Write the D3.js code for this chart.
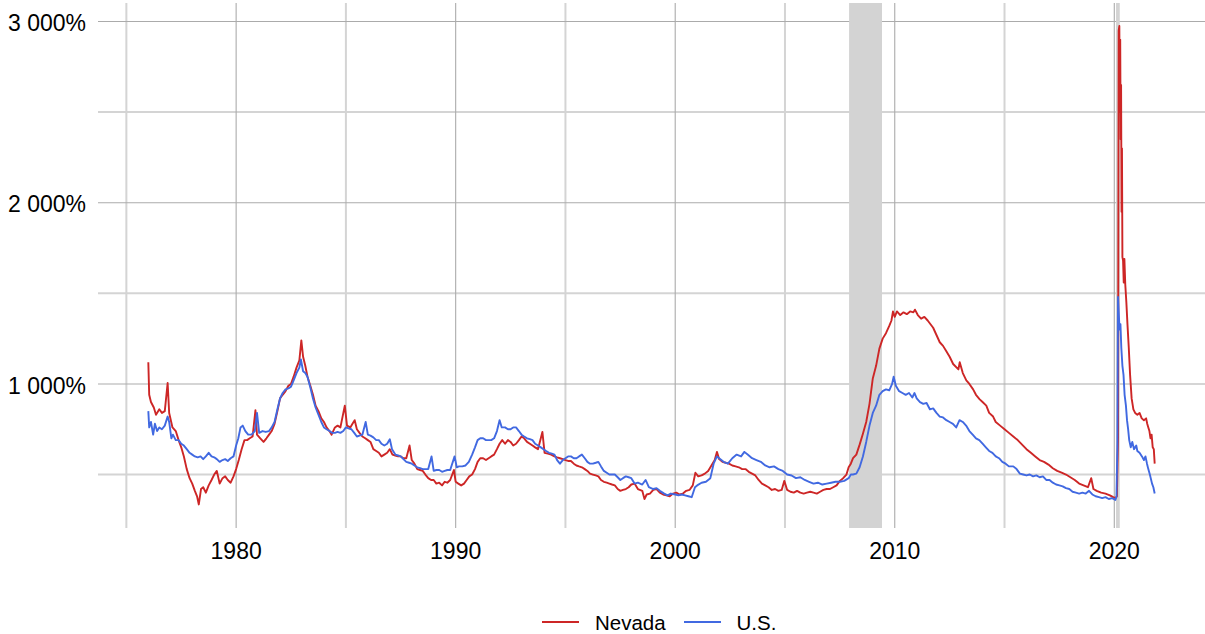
<!DOCTYPE html>
<html><head><meta charset="utf-8">
<script src="https://cdn.jsdelivr.net/npm/d3@7"></script>
<style>body{margin:0;background:#fff} svg{display:block} text{font-family:"Liberation Sans",Arial,sans-serif;fill:#000}</style>
</head><body><svg id="chart" width="1205" height="634"></svg>
<script>
// ---------------- DATA ----------------
const seriesNames = ["Nevada", "U.S."];
const xMajorTicks = [1980, 1990, 2000, 2010, 2020];
const xMinorTicks = [1975, 1985, 1995, 2005, 2015];
const yMajorTicks = [1000, 2000, 3000];
const yMinorTicks = [500, 1500, 2500];
const recessions = [[2007.92, 2009.42], [2020.08, 2020.25]];

const nevada = [
[1976.00,1120],[1976.04,940],[1976.12,900],[1976.25,870],[1976.35,830],[1976.5,860],[1976.62,840],[1976.75,850],[1976.88,1005],[1976.95,840],
[1977.1,760],[1977.25,740],[1977.38,690],[1977.5,650],[1977.62,600],[1977.75,530],[1977.88,480],[1978.0,450],[1978.12,410],[1978.22,380],
[1978.3,335],[1978.4,420],[1978.5,430],[1978.62,400],[1978.75,440],[1978.88,470],[1979.0,500],[1979.12,520],[1979.25,450],[1979.38,480],
[1979.5,490],[1979.62,470],[1979.75,455],[1979.88,490],[1980.0,530],[1980.12,580],[1980.25,640],[1980.38,690],[1980.5,690],[1980.62,700],
[1980.75,710],[1980.88,855],[1980.95,720],[1981.1,700],[1981.25,680],[1981.38,700],[1981.5,720],[1981.62,740],[1981.75,780],[1981.88,850],
[1982.0,920],[1982.12,940],[1982.25,960],[1982.38,990],[1982.5,1000],[1982.62,1040],[1982.75,1090],[1982.88,1130],[1982.97,1240],[1983.05,1150],
[1983.15,1100],[1983.25,1040],[1983.38,990],[1983.5,940],[1983.62,880],[1983.75,850],[1983.88,810],[1984.0,790],[1984.12,760],[1984.25,740],
[1984.35,720],[1984.5,760],[1984.62,770],[1984.75,760],[1984.95,880],[1985.05,770],[1985.2,760],[1985.3,780],[1985.4,800],[1985.5,750],
[1985.62,730],[1985.75,710],[1985.88,700],[1986.0,690],[1986.12,680],[1986.25,640],[1986.38,630],[1986.5,620],[1986.62,600],[1986.75,610],
[1986.88,620],[1987.0,640],[1987.12,610],[1987.25,605],[1987.38,600],[1987.5,600],[1987.62,590],[1987.75,590],[1987.9,660],[1988.0,580],
[1988.12,560],[1988.25,530],[1988.38,525],[1988.5,520],[1988.62,500],[1988.75,480],[1988.88,470],[1989.0,470],[1989.12,450],[1989.25,455],
[1989.38,440],[1989.5,460],[1989.62,455],[1989.75,470],[1989.92,525],[1990.0,460],[1990.12,450],[1990.25,440],[1990.38,450],[1990.5,470],
[1990.62,490],[1990.75,500],[1990.88,530],[1991.0,570],[1991.12,590],[1991.25,590],[1991.38,580],[1991.5,590],[1991.62,600],[1991.75,610],
[1991.88,640],[1992.0,670],[1992.12,690],[1992.25,670],[1992.38,690],[1992.5,680],[1992.62,660],[1992.75,670],[1992.88,690],[1993.0,710],
[1993.12,700],[1993.25,680],[1993.38,670],[1993.5,660],[1993.62,650],[1993.75,640],[1993.95,735],[1994.05,620],[1994.2,615],[1994.35,610],
[1994.5,600],[1994.62,595],[1994.75,590],[1994.88,585],[1995.0,580],[1995.12,575],[1995.25,575],[1995.38,560],[1995.5,550],[1995.62,545],
[1995.75,540],[1995.88,530],[1996.0,520],[1996.12,505],[1996.25,500],[1996.38,495],[1996.5,490],[1996.62,470],[1996.75,460],[1996.88,455],
[1997.0,450],[1997.12,445],[1997.25,440],[1997.38,420],[1997.5,410],[1997.62,415],[1997.75,420],[1997.88,430],[1998.0,445],[1998.15,450],
[1998.3,420],[1998.5,410],[1998.6,365],[1998.7,390],[1998.85,395],[1999.0,415],[1999.15,420],[1999.3,400],[1999.45,390],[1999.6,385],
[1999.75,380],[1999.9,395],[2000.05,400],[2000.2,390],[2000.35,395],[2000.5,410],[2000.65,415],[2000.8,440],[2000.92,510],[2001.05,490],
[2001.2,495],[2001.35,505],[2001.5,520],[2001.65,550],[2001.8,580],[2001.9,625],[2002.0,585],[2002.15,570],[2002.3,565],[2002.45,560],
[2002.6,550],[2002.75,545],[2002.9,540],[2003.05,530],[2003.2,530],[2003.35,515],[2003.5,505],[2003.65,495],[2003.8,470],[2003.95,450],
[2004.1,440],[2004.25,430],[2004.4,415],[2004.55,420],[2004.7,410],[2004.85,415],[2004.97,465],[2005.1,415],[2005.25,405],[2005.4,400],
[2005.55,410],[2005.7,400],[2005.85,395],[2006.0,400],[2006.15,405],[2006.3,400],[2006.45,395],[2006.6,405],[2006.75,415],[2006.9,420],
[2007.05,420],[2007.2,430],[2007.35,440],[2007.5,465],[2007.65,480],[2007.8,500],[2007.9,540],[2008.0,560],[2008.1,590],[2008.25,610],
[2008.4,665],[2008.55,725],[2008.7,790],[2008.85,890],[2009.0,1030],[2009.15,1100],[2009.3,1195],[2009.45,1250],[2009.6,1280],[2009.75,1320],
[2009.85,1350],[2009.92,1400],[2010.0,1370],[2010.1,1400],[2010.25,1380],[2010.4,1395],[2010.55,1385],[2010.7,1400],[2010.85,1395],[2010.92,1410],
[2011.05,1380],[2011.2,1360],[2011.35,1370],[2011.5,1350],[2011.75,1310],[2011.9,1270],[2012.05,1230],[2012.2,1210],[2012.35,1180],[2012.5,1150],
[2012.66,1110],[2012.9,1080],[2012.96,1120],[2013.1,1060],[2013.26,1020],[2013.4,1000],[2013.57,970],[2013.7,940],[2013.87,915],[2014.0,900],
[2014.17,880],[2014.3,840],[2014.48,820],[2014.6,790],[2014.8,770],[2015.0,750],[2015.2,730],[2015.4,710],[2015.6,690],[2015.8,665],
[2016.0,640],[2016.2,620],[2016.4,600],[2016.6,580],[2016.8,570],[2017.0,555],[2017.2,535],[2017.4,520],[2017.6,510],[2017.8,500],
[2018.0,485],[2018.2,470],[2018.4,450],[2018.6,440],[2018.8,430],[2018.95,480],[2019.05,420],[2019.2,410],[2019.4,400],[2019.6,395],
[2019.8,385],[2019.95,375],[2020.05,370],[2020.12,380],[2020.17,700],[2020.2,2950],[2020.23,2975],[2020.25,2500],[2020.27,2900],[2020.29,2350],
[2020.31,2650],[2020.33,1950],[2020.35,2300],[2020.37,1700],[2020.4,1680],[2020.43,1560],[2020.46,1690],[2020.5,1550],[2020.55,1450],[2020.6,1330],
[2020.66,1200],[2020.72,1050],[2020.79,920],[2020.87,860],[2020.95,840],[2021.05,830],[2021.15,840],[2021.25,810],[2021.35,800],[2021.45,810],
[2021.5,780],[2021.55,760],[2021.6,740],[2021.65,700],[2021.7,720],[2021.75,650],[2021.8,640],[2021.84,560]
];

const us = [
[1976.00,850],[1976.04,760],[1976.12,790],[1976.22,720],[1976.3,780],[1976.4,740],[1976.5,760],[1976.62,750],[1976.75,770],[1976.88,820],
[1976.95,790],[1977.05,700],[1977.12,720],[1977.25,690],[1977.38,690],[1977.5,670],[1977.62,660],[1977.75,640],[1977.88,620],[1978.0,610],
[1978.12,600],[1978.25,595],[1978.38,600],[1978.5,585],[1978.62,600],[1978.75,620],[1978.88,600],[1979.0,595],[1979.12,585],[1979.25,570],
[1979.38,580],[1979.5,585],[1979.62,575],[1979.75,590],[1979.88,600],[1980.0,660],[1980.1,700],[1980.2,760],[1980.3,770],[1980.42,740],
[1980.55,720],[1980.7,720],[1980.85,740],[1980.95,840],[1981.05,730],[1981.2,740],[1981.35,735],[1981.5,740],[1981.62,760],[1981.75,790],
[1981.88,860],[1982.0,920],[1982.12,950],[1982.25,970],[1982.38,975],[1982.5,985],[1982.62,1020],[1982.75,1060],[1982.88,1090],[1982.95,1135],
[1983.05,1070],[1983.15,1060],[1983.25,1040],[1983.38,980],[1983.5,920],[1983.62,870],[1983.75,830],[1983.88,790],[1984.0,760],[1984.12,750],
[1984.25,740],[1984.38,730],[1984.5,730],[1984.62,735],[1984.75,730],[1984.88,740],[1985.0,760],[1985.12,755],[1985.25,750],[1985.38,730],
[1985.5,710],[1985.62,715],[1985.75,720],[1985.9,790],[1986.0,720],[1986.12,715],[1986.25,705],[1986.38,690],[1986.5,690],[1986.62,670],
[1986.75,660],[1986.88,670],[1987.0,695],[1987.1,640],[1987.25,610],[1987.38,605],[1987.5,600],[1987.62,585],[1987.75,570],[1987.88,565],
[1988.0,560],[1988.12,550],[1988.25,540],[1988.38,535],[1988.5,530],[1988.62,530],[1988.75,530],[1988.9,600],[1989.0,520],[1989.12,525],
[1989.25,525],[1989.38,515],[1989.5,520],[1989.62,525],[1989.75,525],[1989.95,600],[1990.05,540],[1990.15,545],[1990.3,545],[1990.45,550],
[1990.6,570],[1990.75,610],[1990.88,650],[1991.0,690],[1991.12,700],[1991.25,700],[1991.38,690],[1991.5,690],[1991.62,690],[1991.75,700],
[1991.88,740],[1992.0,800],[1992.1,760],[1992.25,760],[1992.38,750],[1992.5,750],[1992.62,760],[1992.75,760],[1992.88,740],[1993.0,720],
[1993.12,710],[1993.25,700],[1993.38,695],[1993.5,690],[1993.62,670],[1993.75,660],[1993.88,650],[1994.0,640],[1994.12,630],[1994.25,620],
[1994.38,615],[1994.5,610],[1994.62,580],[1994.75,560],[1994.88,580],[1995.0,590],[1995.12,600],[1995.25,600],[1995.38,590],[1995.5,590],
[1995.62,600],[1995.75,610],[1995.88,590],[1996.0,570],[1996.12,560],[1996.25,560],[1996.38,565],[1996.5,570],[1996.62,545],[1996.75,520],
[1996.88,510],[1997.0,500],[1997.12,500],[1997.25,500],[1997.38,485],[1997.5,470],[1997.62,480],[1997.75,490],[1997.88,485],[1998.0,480],
[1998.15,450],[1998.3,455],[1998.5,445],[1998.65,470],[1998.8,430],[1999.0,420],[1999.15,425],[1999.3,410],[1999.5,395],[1999.65,385],
[1999.8,395],[2000.0,390],[2000.15,385],[2000.3,390],[2000.45,385],[2000.6,380],[2000.75,375],[2000.9,430],[2001.0,440],[2001.2,455],
[2001.4,460],[2001.6,480],[2001.75,560],[2001.9,600],[2002.0,590],[2002.2,570],[2002.4,560],[2002.6,590],[2002.8,610],[2003.0,600],
[2003.15,625],[2003.3,610],[2003.5,590],[2003.7,580],[2003.9,570],[2004.1,550],[2004.3,540],[2004.5,545],[2004.7,530],[2004.9,520],
[2005.1,500],[2005.3,495],[2005.5,480],[2005.7,485],[2005.9,470],[2006.1,460],[2006.3,450],[2006.5,455],[2006.7,445],[2006.9,450],
[2007.1,455],[2007.3,460],[2007.5,460],[2007.7,465],[2007.9,480],[2008.0,500],[2008.1,500],[2008.25,505],[2008.4,540],[2008.55,600],
[2008.7,680],[2008.85,770],[2009.0,840],[2009.15,880],[2009.3,940],[2009.45,960],[2009.6,970],[2009.75,965],[2009.88,1000],[2009.95,1040],
[2010.05,990],[2010.2,960],[2010.35,950],[2010.5,940],[2010.65,950],[2010.8,925],[2010.9,950],[2011.0,920],[2011.15,900],[2011.3,890],
[2011.45,895],[2011.6,860],[2011.75,865],[2011.9,840],[2012.05,820],[2012.2,815],[2012.35,800],[2012.5,790],[2012.65,780],[2012.8,760],
[2012.95,800],[2013.1,790],[2013.25,770],[2013.4,740],[2013.55,720],[2013.7,700],[2013.85,690],[2014.0,670],[2014.15,650],[2014.3,630],
[2014.45,620],[2014.6,600],[2014.75,590],[2014.9,570],[2015.05,560],[2015.2,545],[2015.4,545],[2015.55,530],[2015.7,505],[2015.85,500],
[2016.0,495],[2016.15,500],[2016.3,490],[2016.45,495],[2016.6,485],[2016.75,490],[2016.9,470],[2017.05,470],[2017.2,455],[2017.35,445],
[2017.5,440],[2017.65,435],[2017.8,425],[2017.95,420],[2018.1,405],[2018.25,400],[2018.4,395],[2018.55,400],[2018.7,395],[2018.85,410],
[2019.0,390],[2019.15,380],[2019.3,375],[2019.45,370],[2019.6,375],[2019.75,365],[2019.9,370],[2020.05,360],[2020.1,380],[2020.14,650],
[2020.17,1480],[2020.2,1400],[2020.24,1300],[2020.28,1330],[2020.32,1200],[2020.37,1100],[2020.42,1050],[2020.47,940],[2020.53,880],[2020.58,800],
[2020.63,750],[2020.68,690],[2020.75,650],[2020.82,680],[2020.9,640],[2021.0,660],[2021.05,630],[2021.15,620],[2021.26,600],[2021.35,580],
[2021.42,600],[2021.49,560],[2021.55,530],[2021.62,500],[2021.72,450],[2021.78,430],[2021.84,395]
];

const seriesColors = ["#cd2626", "#4169e1"];

// ---------------- CHART ----------------
const svg = d3.select("#chart");
const panel = {left: 98, right: 1205, top: 3, bottom: 528};

const allPts = nevada.concat(us);
const xExt = d3.extent(allPts, d => d[0]);
const xPad = (xExt[1] - xExt[0]) * 0.05;
const x = d3.scaleLinear().domain([xExt[0] - xPad, xExt[1] + xPad]).range([panel.left, panel.right]);
const y = d3.scaleLinear().domain([205, 3102]).range([panel.bottom, panel.top]);

const loc = d3.formatLocale({decimal: ",", thousands: " ", grouping: [3], currency: ["", ""]});
const fmtY = v => loc.format(",.0f")(v) + "%";

const grid = svg.append("g");
// minor grid
grid.selectAll(".ymin").data(yMinorTicks).join("line")
  .attr("x1", panel.left).attr("x2", panel.right)
  .attr("y1", d => y(d)).attr("y2", d => y(d))
  .attr("stroke", "#d4d4d4").attr("stroke-width", 2);
grid.selectAll(".xmin").data(xMinorTicks.filter(t => t >= x.domain()[0])).join("line")
  .attr("y1", panel.top).attr("y2", panel.bottom)
  .attr("x1", d => x(d)).attr("x2", d => x(d))
  .attr("stroke", "#d4d4d4").attr("stroke-width", 2);
// major grid
const g2 = svg.append("g");
g2.selectAll("line.ymaj").data(yMajorTicks).join("line")
  .attr("x1", panel.left).attr("x2", panel.right)
  .attr("y1", d => y(d)).attr("y2", d => y(d))
  .attr("stroke", "#ababab").attr("stroke-width", 1.1);
g2.selectAll("line.xmaj").data(xMajorTicks).join("line")
  .attr("y1", panel.top).attr("y2", panel.bottom)
  .attr("x1", d => x(d)).attr("x2", d => x(d))
  .attr("stroke", "#ababab").attr("stroke-width", 1.1);

// recession shading
svg.append("g").selectAll("rect").data(recessions).join("rect")
  .attr("x", d => x(d[0])).attr("width", d => x(d[1]) - x(d[0]))
  .attr("y", panel.top).attr("height", panel.bottom - panel.top)
  .attr("fill", "#d3d3d3");

// lines
const line = d3.line().x(d => x(d[0])).y(d => y(d[1]));
[nevada, us].forEach((s, i) => {
  svg.append("path").datum(s).attr("d", line)
    .attr("fill", "none").attr("stroke", seriesColors[i])
    .attr("stroke-width", 1.9).attr("stroke-linejoin", "round");
});

// axis labels
svg.append("g").selectAll("text").data(yMajorTicks).join("text")
  .attr("x", 86).attr("y", d => y(d)).attr("dy", "0.42em")
  .attr("text-anchor", "end").style("font-size", "23px")
  .text(d => fmtY(d));
svg.append("g").selectAll("text").data(xMajorTicks).join("text")
  .attr("x", d => x(d)).attr("y", 559)
  .attr("text-anchor", "middle").style("font-size", "23px")
  .text(d => d);

// legend
const legendPos = [{lx: 542, tx: 595}, {lx: 684, tx: 736.5}];
const lg = svg.append("g");
seriesNames.forEach((n, i) => {
  lg.append("line").attr("x1", legendPos[i].lx).attr("x2", legendPos[i].lx + 37)
    .attr("y1", 622).attr("y2", 622)
    .attr("stroke", seriesColors[i]).attr("stroke-width", 2);
  lg.append("text").attr("x", legendPos[i].tx).attr("y", 630)
    .style("font-size", "20.5px").text(n);
});
</script>
</body></html>
